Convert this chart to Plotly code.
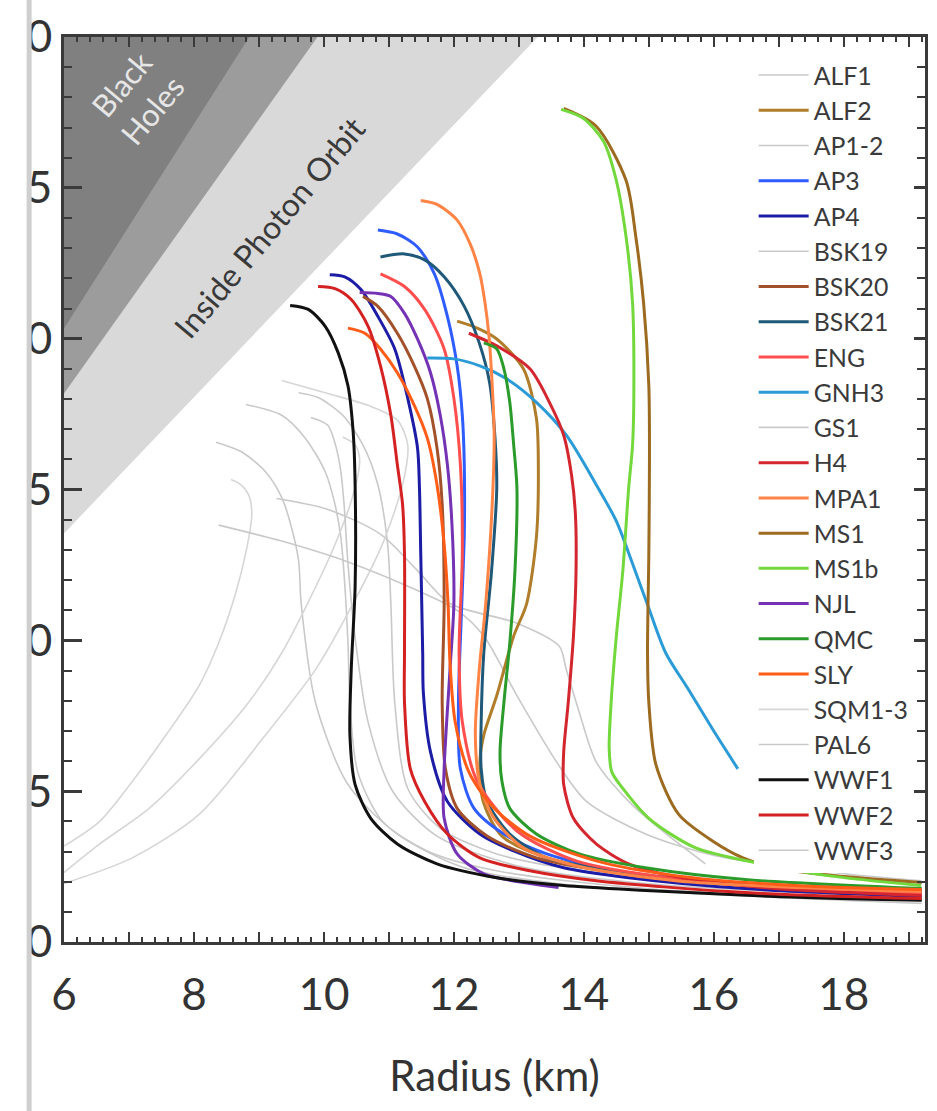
import plotly.graph_objects as go

# ---------------- data (Radius km, Mass Msun) ----------------
ALF1_R = [8.80, 9.35, 9.71, 10.02, 10.17, 10.26, 10.32, 10.37, 10.40, 10.52, 10.90, 11.59, 12.66, 14.95, 19.2]
ALF1_M = [1.782, 1.746, 1.671, 1.559, 1.451, 1.342, 1.188, 0.991, 0.794, 0.564, 0.400, 0.302, 0.236, 0.177, 0.138]

ALF2_R = [12.05, 12.36, 12.66, 13.07, 13.27, 13.30, 13.27, 13.12, 12.92, 12.66, 12.46, 12.40, 12.45, 12.74, 13.43, 14.49, 16.48, 19.2]
ALF2_M = [2.058, 2.035, 1.999, 1.900, 1.736, 1.559, 1.342, 1.122, 1.014, 0.817, 0.686, 0.597, 0.466, 0.351, 0.279, 0.233, 0.190, 0.167]

AP12_R = [8.34, 8.73, 9.10, 9.35, 9.50, 9.61, 9.65, 9.87, 10.37, 11.13, 12.16, 13.58, 15.72, 19.2]
AP12_M = [1.657, 1.625, 1.559, 1.474, 1.375, 1.264, 1.122, 0.794, 0.522, 0.358, 0.246, 0.194, 0.161, 0.128]

AP3_R = [10.83, 11.13, 11.44, 11.70, 11.90, 12.05, 12.13, 12.16, 12.16, 12.11, 12.07, 12.10, 12.31, 12.77, 13.43, 14.49, 16.48, 19.2]
AP3_M = [2.360, 2.347, 2.304, 2.215, 2.074, 1.910, 1.746, 1.582, 1.352, 1.057, 0.794, 0.574, 0.443, 0.358, 0.292, 0.236, 0.190, 0.164]

AP4_R = [10.09, 10.32, 10.57, 10.83, 11.09, 11.29, 11.44, 11.47, 11.49, 11.52, 11.53, 11.64, 11.90, 12.40, 12.92, 13.69, 14.69, 16.48, 19.2]
AP4_M = [2.212, 2.205, 2.163, 2.074, 1.966, 1.802, 1.638, 1.506, 1.287, 0.958, 0.827, 0.630, 0.466, 0.358, 0.302, 0.246, 0.213, 0.177, 0.151]

BSK19_R = [9.61, 9.91, 10.29, 10.60, 10.83, 10.98, 11.03, 11.09, 11.29, 11.79, 12.66, 14.19, 16.48, 19.2]
BSK19_M = [1.821, 1.805, 1.746, 1.648, 1.516, 1.319, 1.122, 0.794, 0.509, 0.377, 0.292, 0.230, 0.187, 0.161]

BSK20_R = [10.60, 10.83, 11.13, 11.39, 11.59, 11.74, 11.82, 11.85, 11.82, 11.87, 12.05, 12.51, 13.27, 14.49, 16.48, 19.2]
BSK20_M = [2.140, 2.107, 2.018, 1.910, 1.802, 1.638, 1.451, 1.122, 0.794, 0.574, 0.443, 0.351, 0.279, 0.230, 0.187, 0.161]

BSK21_R = [10.87, 11.24, 11.55, 11.85, 12.16, 12.39, 12.55, 12.63, 12.66, 12.58, 12.46, 12.42, 12.42, 12.51, 12.86, 13.43, 14.19, 15.72, 19.2]
BSK21_M = [2.271, 2.281, 2.261, 2.205, 2.107, 1.986, 1.854, 1.680, 1.506, 1.231, 0.958, 0.729, 0.574, 0.466, 0.358, 0.279, 0.246, 0.203, 0.171]

ENG_R = [10.87, 11.24, 11.55, 11.85, 12.00, 12.10, 12.13, 12.08, 12.13, 12.36, 12.97, 13.88, 15.41, 17.25, 19.2]
ENG_M = [2.215, 2.173, 2.097, 1.966, 1.802, 1.582, 1.287, 0.958, 0.729, 0.532, 0.368, 0.269, 0.210, 0.177, 0.158]

GNH3_R = [11.59, 12.00, 12.40, 12.81, 13.27, 13.73, 14.19, 14.50, 14.75, 15.00, 15.26, 15.61, 15.98, 16.37]
GNH3_M = [1.936, 1.933, 1.910, 1.867, 1.789, 1.680, 1.516, 1.395, 1.254, 1.106, 0.958, 0.837, 0.706, 0.574]

GS1_R = [9.27, 10.06, 10.87, 11.44, 11.94, 12.97, 13.62, 13.73, 13.93, 14.19, 14.69, 15.21, 15.87]
GS1_M = [1.470, 1.434, 1.352, 1.231, 1.122, 1.057, 0.981, 0.903, 0.761, 0.597, 0.466, 0.368, 0.259]

H4_R = [12.23, 12.66, 13.17, 13.47, 13.69, 13.81, 13.87, 13.88, 13.84, 13.76, 13.69, 13.69, 13.84, 14.19, 14.69, 15.41, 16.94, 19.2]
H4_M = [2.018, 1.976, 1.900, 1.789, 1.680, 1.549, 1.418, 1.231, 1.014, 0.794, 0.630, 0.522, 0.410, 0.325, 0.259, 0.217, 0.177, 0.154]

MPA1_R = [11.49, 11.74, 12.05, 12.25, 12.40, 12.48, 12.54, 12.59, 12.62, 12.59, 12.49, 12.39, 12.33, 12.40, 12.62, 13.07, 13.88, 15.41, 19.2]
MPA1_M = [2.458, 2.445, 2.393, 2.314, 2.215, 2.117, 2.009, 1.844, 1.680, 1.451, 1.122, 0.903, 0.686, 0.522, 0.410, 0.312, 0.253, 0.203, 0.167]

MS1_R = [13.69, 14.19, 14.65, 14.80, 14.92, 15.00, 15.01, 15.00, 14.98, 15.00, 15.11, 15.46, 15.98, 16.45, 17.02, 18.01, 19.2]
MS1_M = [2.763, 2.704, 2.524, 2.337, 2.117, 1.844, 1.615, 1.287, 0.958, 0.794, 0.587, 0.423, 0.335, 0.279, 0.243, 0.217, 0.197]

MS1b_R = [13.65, 13.99, 14.30, 14.50, 14.65, 14.75, 14.77, 14.75, 14.69, 14.60, 14.50, 14.42, 14.39, 14.43, 14.60, 15.00, 15.72, 16.74, 17.75, 19.19]
MS1b_M = [2.760, 2.731, 2.655, 2.524, 2.337, 2.117, 1.844, 1.648, 1.506, 1.231, 1.014, 0.794, 0.640, 0.564, 0.509, 0.410, 0.312, 0.259, 0.220, 0.187]

NJL_R = [10.55, 10.83, 11.03, 11.24, 11.44, 11.64, 11.79, 11.90, 11.97, 12.00, 11.94, 11.85, 11.85, 12.05, 12.46, 13.17, 13.61]
NJL_M = [2.153, 2.150, 2.140, 2.084, 1.999, 1.887, 1.746, 1.582, 1.385, 1.122, 0.903, 0.574, 0.410, 0.292, 0.226, 0.194, 0.181]

QMC_R = [12.46, 12.66, 12.77, 12.86, 12.92, 12.97, 12.94, 12.86, 12.77, 12.71, 12.74, 12.86, 13.27, 13.93, 14.95, 16.48, 19.2]
QMC_M = [1.986, 1.966, 1.900, 1.789, 1.648, 1.506, 1.231, 0.991, 0.794, 0.630, 0.532, 0.443, 0.358, 0.292, 0.246, 0.207, 0.177]

SLY_R = [10.37, 10.63, 10.87, 11.13, 11.39, 11.59, 11.74, 11.85, 11.91, 11.94, 12.02, 12.23, 12.59, 13.17, 14.19, 15.41, 17.25, 19.2]
SLY_M = [2.035, 2.018, 1.966, 1.887, 1.779, 1.671, 1.516, 1.319, 1.122, 0.926, 0.729, 0.564, 0.450, 0.351, 0.269, 0.220, 0.187, 0.174]

SQM1_R = [6.0, 6.55, 7.05, 7.57, 8.08, 8.38, 8.64, 8.81, 8.89, 8.84, 8.72, 8.57]
SQM1_M = [0.318, 0.400, 0.532, 0.686, 0.850, 0.991, 1.155, 1.303, 1.418, 1.483, 1.516, 1.533]
SQM2_R = [6.0, 6.55, 7.31, 8.08, 8.84, 9.35, 10.11, 10.45, 10.55, 10.48, 10.29]
SQM2_M = [0.230, 0.325, 0.443, 0.607, 0.794, 0.958, 1.287, 1.483, 1.598, 1.648, 1.674]
SQM3_R = [6.0, 7.05, 8.08, 9.10, 9.87, 10.37, 10.90, 11.21, 11.29, 11.13, 10.68, 10.06, 9.35]
SQM3_M = [0.194, 0.279, 0.423, 0.686, 0.903, 1.090, 1.319, 1.516, 1.648, 1.730, 1.779, 1.818, 1.861]

PAL6_R = [8.38, 9.35, 10.37, 11.44, 12.05, 12.46, 12.97, 13.58, 14.04, 14.95, 16.02, 18.01, 19.2]
PAL6_M = [1.382, 1.329, 1.260, 1.165, 1.099, 1.014, 0.817, 0.597, 0.466, 0.358, 0.286, 0.226, 0.203]

WWF1_R = [9.48, 9.76, 10.02, 10.22, 10.37, 10.45, 10.48, 10.48, 10.42, 10.40, 10.48, 10.72, 11.13, 11.74, 12.66, 13.69, 14.95, 16.94, 19.2]
WWF1_M = [2.110, 2.097, 2.041, 1.953, 1.844, 1.690, 1.516, 1.178, 0.903, 0.686, 0.522, 0.410, 0.325, 0.259, 0.213, 0.187, 0.171, 0.151, 0.138]

WWF2_R = [9.91, 10.17, 10.42, 10.68, 10.87, 11.03, 11.13, 11.21, 11.24, 11.24, 11.24, 11.33, 11.55, 11.90, 12.40, 13.17, 14.19, 16.48, 19.2]
WWF2_M = [2.173, 2.166, 2.130, 2.041, 1.910, 1.746, 1.582, 1.451, 1.287, 0.958, 0.794, 0.574, 0.466, 0.358, 0.279, 0.236, 0.203, 0.164, 0.144]

WWF3_R = [9.80, 10.06, 10.19, 10.26, 10.31, 10.37, 10.49, 10.68, 11.06, 11.74, 12.97, 14.95, 19.2]
WWF3_M = [1.739, 1.713, 1.638, 1.559, 1.451, 1.254, 0.991, 0.729, 0.499, 0.351, 0.253, 0.194, 0.148]

# forbidden regions: boundary R/M ratios (km per solar mass)
BH_RATIO = 2.95        # Schwarzschild
BUCH_RATIO = 3.30      # Buchdahl
PHOTON_RATIO = 4.43    # photon orbit

X_RANGE = [6.0, 19.25]
Y_RANGE = [0.0, 3.0]
X_TICKS = list(range(6, 20))
X_TICKTEXT = [str(v) if v % 2 == 0 else "" for v in X_TICKS]
Y_TICKS = [0.0, 0.5, 1.0, 1.5, 2.0, 2.5, 3.0]
Y_TICKTEXT = ["0", "5", "0", "5", "0", "5", "0"]

GRAY = "#c9c9c9"
GRAY2 = "#d6d6d6"

# name, R, M, color, width, show in legend, legend rank
series = [
    ("ALF1", ALF1_R, ALF1_M, GRAY, 1.6, True, 1),
    ("AP1-2", AP12_R, AP12_M, GRAY, 1.6, True, 3),
    ("BSK19", BSK19_R, BSK19_M, GRAY, 1.6, True, 6),
    ("GS1", GS1_R, GS1_M, GRAY, 1.6, True, 11),
    ("SQM1-3", SQM1_R, SQM1_M, GRAY2, 1.6, True, 19),
    ("SQM1-3", SQM2_R, SQM2_M, GRAY2, 1.6, False, 19),
    ("SQM1-3", SQM3_R, SQM3_M, GRAY2, 1.6, False, 19),
    ("PAL6", PAL6_R, PAL6_M, GRAY, 1.6, True, 20),
    ("WWF3", WWF3_R, WWF3_M, GRAY, 1.6, True, 23),
    ("ALF2", ALF2_R, ALF2_M, "#b07d2b", 3, True, 2),
    ("AP3", AP3_R, AP3_M, "#2f5cff", 3, True, 4),
    ("AP4", AP4_R, AP4_M, "#1c1ca6", 3, True, 5),
    ("BSK20", BSK20_R, BSK20_M, "#a3512a", 3, True, 7),
    ("BSK21", BSK21_R, BSK21_M, "#1f5878", 3, True, 8),
    ("ENG", ENG_R, ENG_M, "#ff4e4e", 3, True, 9),
    ("GNH3", GNH3_R, GNH3_M, "#2b9bd8", 3, True, 10),
    ("H4", H4_R, H4_M, "#d3262e", 3, True, 12),
    ("MPA1", MPA1_R, MPA1_M, "#ff8445", 3, True, 13),
    ("MS1", MS1_R, MS1_M, "#9c6b20", 3, True, 14),
    ("MS1b", MS1b_R, MS1b_M, "#72d83c", 3, True, 15),
    ("NJL", NJL_R, NJL_M, "#7432b4", 3, True, 16),
    ("QMC", QMC_R, QMC_M, "#2b9b2b", 3, True, 17),
    ("SLY", SLY_R, SLY_M, "#ff5c18", 3, True, 18),
    ("WWF1", WWF1_R, WWF1_M, "#111111", 3, True, 21),
    ("WWF2", WWF2_R, WWF2_M, "#d42222", 3, True, 22),
]

fig = go.Figure()

# shaded regions (drawn from boundary ratios)
for ratio, col in [(PHOTON_RATIO, "#d9d9d9"), (BUCH_RATIO, "#9c9c9c"), (BH_RATIO, "#808080")]:
    r0 = X_RANGE[0]
    fig.add_trace(go.Scatter(
        x=[r0, r0, Y_RANGE[1] * ratio, r0],
        y=[r0 / ratio, Y_RANGE[1], Y_RANGE[1], r0 / ratio],
        fill="toself", fillcolor=col, mode="none",
        showlegend=False, hoverinfo="skip"))

for name, R, M, col, w, show, rank in series:
    fig.add_trace(go.Scatter(
        x=R, y=M, name=name, mode="lines",
        line=dict(color=col, width=w, shape="spline", smoothing=0.8),
        showlegend=show, legendrank=rank))

fig.add_annotation(x=7.12, y=2.80, xref="x", yref="y", text="Black<br>Holes",
                   showarrow=False, textangle=-50,
                   font=dict(family="Lato", size=31, color="#e6e6e6"))
fig.add_annotation(x=9.15, y=2.37, xref="x", yref="y", text="Inside Photon Orbit",
                   showarrow=False, textangle=-50,
                   font=dict(family="Lato", size=32, color="#3a3a3a"))

# page border line at left
fig.add_shape(type="line", xref="paper", yref="paper",
              x0=-0.0405, x1=-0.0405, y0=-0.2, y1=1.05,
              line=dict(color="#cfcfcf", width=5))

axis_common = dict(showline=True, linecolor="#3a3a3a", linewidth=3, mirror="ticks",
                   ticks="inside", tickcolor="#3a3a3a", showgrid=False, zeroline=False)

fig.update_xaxes(range=X_RANGE, tickvals=X_TICKS, ticktext=X_TICKTEXT,
                 ticklen=10, tickwidth=2,
                 minor=dict(dtick=0.2, ticklen=5, tickwidth=1.5, ticks="inside", tickcolor="#3a3a3a"),
                 tickfont=dict(family="Lato", size=44, color="#333333"),
                 ticklabelstandoff=12,
                 title=dict(text="Radius (km)", font=dict(family="Lato", size=42, color="#333333"),
                            standoff=44),
                 **axis_common)
fig.update_yaxes(range=Y_RANGE, tickvals=Y_TICKS, ticktext=Y_TICKTEXT,
                 ticklen=18, tickwidth=2.5,
                 minor=dict(dtick=0.1, ticklen=8, tickwidth=2, ticks="inside", tickcolor="#3a3a3a"),
                 tickfont=dict(family="Lato", size=44, color="#333333"),
                 ticklabelstandoff=0,
                 **axis_common)

fig.update_layout(
    width=937, height=1111, autosize=False,
    margin=dict(l=64, r=9, t=28, b=169),
    plot_bgcolor="white", paper_bgcolor="white",
    legend=dict(x=0.801, y=0.983, xanchor="left", yanchor="top",
                bgcolor="white", borderwidth=0, tracegroupgap=0,
                itemwidth=50,
                font=dict(family="Lato", size=24.8, color="#3a3a3a")),
)

fig.write_html("out.html")
